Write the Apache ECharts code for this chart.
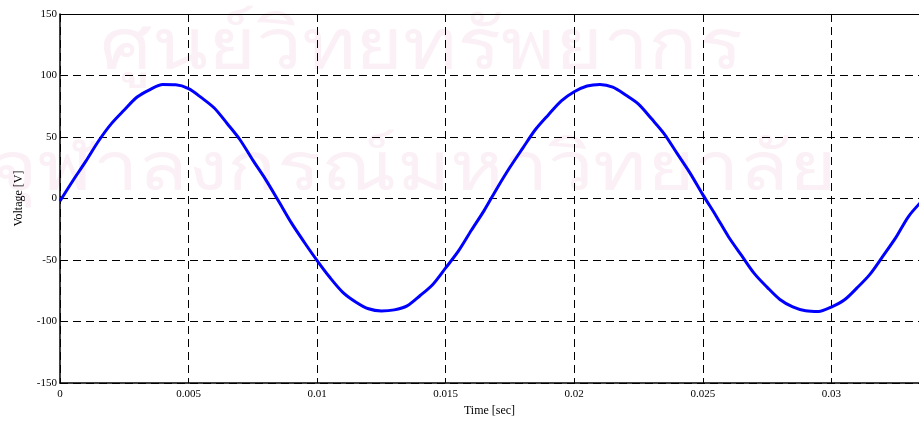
<!DOCTYPE html>
<html>
<head>
<meta charset="utf-8">
<script src="https://cdn.jsdelivr.net/npm/echarts@6/dist/echarts.min.js"></script>
<style>
  html, body { margin: 0; padding: 0; background: #fff; }
  #chart { width: 919px; height: 422px; }
</style>
</head>
<body>
<div id="chart"></div>
<script>
const timeStep = 0.0005;
const voltage = [
  -2, 14.5, 30.2, 46.8, 60.9, 72.0, 82.5, 88.6, 92.6, 92.4,
  89.3, 82.0, 73.6, 61.0, 47.8, 31.2, 15.4, -2.0, -19.8, -35.5,
  -50.4, -64.2, -76.2, -84.0, -89.6, -91.4, -90.5, -87.2, -79.0, -69.8,
  -56.4, -42.6, -25.8, -9.6, 8.4, 25.4, 41.0, 56.3, 68.2, 79.4,
  86.8, 91.5, 92.8, 90.6, 84.2, 76.8, 65.0, 52.6, 36.7, 20.9,
  3.2, -13.5, -31.0, -46.0, -60.8, -72.0, -82.0, -88.0, -91.2, -91.8,
  -88.2, -82.5, -72.6, -61.6, -47.0, -32.0, -14.6, -2.5
];
const xTicks = [0, 0.005, 0.01, 0.015, 0.02, 0.025, 0.03];
const yTicks = [-150, -100, -50, 0, 50, 100, 150];
const watermark = ['ศูนย์วิทยทรัพยากร', 'จุฬาลงกรณ์มหาวิทยาลัย'];

const points = voltage.map((v, i) => [+(i * timeStep).toFixed(4), v]);

const serif = '"Liberation Serif", "DejaVu Serif", serif';
const wmFont = '72px "Noto Sans", "DejaVu Sans", sans-serif';
const xMax = 0.03341;

const chart = echarts.init(document.getElementById('chart'));

chart.setOption({
  animation: false,
  backgroundColor: '#fff',
  graphic: [
    {
      type: 'text', x: 100, y: 12, scaleX: 1.14, scaleY: 1, z: -1, silent: true,
      style: { text: watermark[0], font: wmFont, fill: '#faf0f5' }
    },
    {
      type: 'text', x: -10, y: 136, scaleX: 1.13, scaleY: 0.95, z: -1, silent: true,
      style: { text: watermark[1], font: wmFont, fill: '#faf0f5' }
    }
  ],
  grid: { left: 60, right: -3, top: 14, bottom: 37 },
  xAxis: [
    {
      type: 'value',
      min: 0,
      max: xMax,
      interval: 0.005,
      name: 'Time [sec]',
      nameLocation: 'middle',
      nameGap: 21,
      nameTextStyle: { fontFamily: serif, fontSize: 12, color: '#000' },
      axisLine: { onZero: false, lineStyle: { color: '#000', width: 1.5 } },
      axisTick: { inside: true, length: 5, lineStyle: { color: '#000' } },
      axisLabel: {
        showMaxLabel: false,
        margin: 6,
        fontFamily: serif, fontSize: 11, color: '#000',
        formatter: v => xTicks.includes(+v.toFixed(4)) ? String(+v.toFixed(4)) : ''
      },
      splitLine: { show: true, lineStyle: { color: '#000', type: [8, 5], width: 1 } }
    },
    {
      type: 'value',
      position: 'top',
      min: 0,
      max: xMax,
      interval: 0.005,
      axisLine: { show: true, onZero: false, lineStyle: { color: '#000', width: 1 } },
      axisTick: { show: false },
      axisLabel: { show: false },
      splitLine: { show: false }
    }
  ],
  yAxis: {
    type: 'value',
    min: yTicks[0],
    max: yTicks[yTicks.length - 1],
    interval: 50,
    name: 'Voltage [V]',
    nameLocation: 'middle',
    nameGap: 35,
    nameTextStyle: { fontFamily: serif, fontSize: 12, color: '#000' },
    axisLine: { show: true, lineStyle: { color: '#000', width: 1.5 } },
    axisTick: { show: true, inside: true, length: 5, lineStyle: { color: '#000' } },
    axisLabel: { margin: 3, fontFamily: serif, fontSize: 11, color: '#000' },
    splitLine: { show: true, lineStyle: { color: '#000', type: [8, 5], width: 1 } }
  },
  series: [
    {
      type: 'line',
      data: points,
      smooth: 0.3,
      showSymbol: false,
      clip: true,
      lineStyle: { color: '#0000ff', width: 3 }
    }
  ]
});
</script>
</body>
</html>
